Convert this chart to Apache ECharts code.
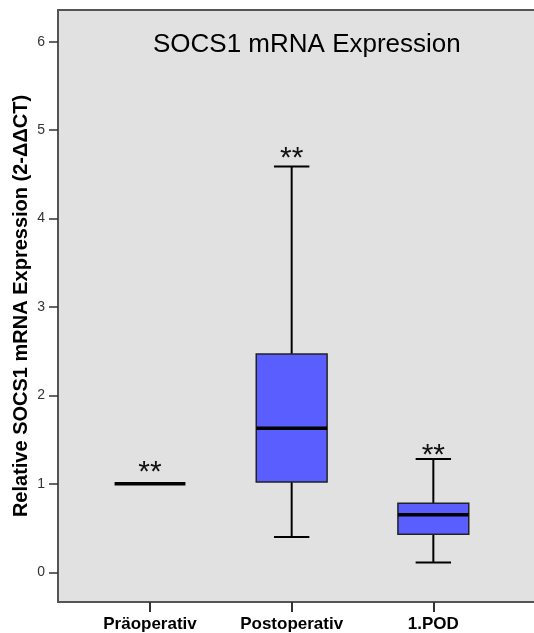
<!DOCTYPE html>
<html><head><meta charset="utf-8">
<script src="https://cdn.jsdelivr.net/npm/echarts@6/dist/echarts.min.js"></script>
<style>html,body{margin:0;padding:0;background:#fff}#c{width:534px;height:633px}</style>
</head><body><div id="c"></div>
<script>
const categories = ['Präoperativ', 'Postoperativ', '1.POD'];
const whiskerLow = [1, 0.40, 0.11];
const q1 = [1, 1.02, 0.43];
const median = [1, 1.63, 0.65];
const q3 = [1, 2.47, 0.78];
const whiskerHigh = [1, 4.59, 1.28];
const signifText = ['**', '**', '**'];
const signifY = [1.19, 4.75, 1.39];
const yTicks = [0, 1, 2, 3, 4, 5, 6];
const titleText = 'SOCS1 mRNA Expression';
const yName = 'Relative SOCS1 mRNA Expression (2-ΔΔCT)';

const FONT = 'Liberation Sans, Arial, sans-serif';
const boxData = categories.map((c, i) => [i, whiskerLow[i], q1[i], median[i], q3[i], whiskerHigh[i], signifY[i]]);

function renderItem(params, api) {
  const i = api.value(0);
  const bw = api.size([1, 0])[0] * 0.5;
  const capHalf = bw / 4;
  const pLow = api.coord([i, api.value(1)]);
  const pQ1 = api.coord([i, api.value(2)]);
  const pMed = api.coord([i, api.value(3)]);
  const pQ3 = api.coord([i, api.value(4)]);
  const pHigh = api.coord([i, api.value(5)]);
  const pSig = api.coord([i, api.value(6)]);
  const x = pMed[0];
  const line = { stroke: '#000', lineWidth: 2 };
  const ch = [];
  if (pLow[1] - pQ1[1] > 0.5) {
    ch.push({ type: 'line', shape: { x1: x, y1: pQ1[1], x2: x, y2: pLow[1] }, style: line });
    ch.push({ type: 'line', shape: { x1: x - capHalf, y1: pLow[1], x2: x + capHalf, y2: pLow[1] }, style: line });
  }
  if (pQ3[1] - pHigh[1] > 0.5) {
    ch.push({ type: 'line', shape: { x1: x, y1: pQ3[1], x2: x, y2: pHigh[1] }, style: line });
    ch.push({ type: 'line', shape: { x1: x - capHalf, y1: pHigh[1], x2: x + capHalf, y2: pHigh[1] }, style: line });
  }
  if (pQ1[1] - pQ3[1] > 0.5) {
    ch.push({ type: 'rect', shape: { x: x - bw / 2, y: pQ3[1], width: bw, height: pQ1[1] - pQ3[1] },
      style: { fill: '#5a5eff', stroke: '#222', lineWidth: 1.5 } });
  }
  ch.push({ type: 'line', shape: { x1: x - bw / 2, y1: pMed[1], x2: x + bw / 2, y2: pMed[1] },
    style: { stroke: '#000', lineWidth: 3.5 } });
  ch.push({ type: 'text', x: x, y: pSig[1] + 6,
    style: { text: signifText[i], fill: '#111', fontSize: 30, fontFamily: FONT, align: 'center', verticalAlign: 'middle' } });
  return { type: 'group', children: ch };
}

const chart = echarts.init(document.getElementById('c'), null, { renderer: 'canvas' });
chart.setOption({
  animation: false,
  backgroundColor: '#fff',
  textStyle: { fontFamily: FONT },
  title: {
    text: titleText, left: 148, top: 27,
    textStyle: { fontSize: 26, fontWeight: 'normal', color: '#000', fontFamily: FONT }
  },
  grid: [
    { show: true, outerBoundsMode: 'none', containLabel: false, left: 58, top: 10, width: 490, height: 592,
      backgroundColor: '#e1e1e1', borderColor: '#555', borderWidth: 2 },
    { show: false, outerBoundsMode: 'none', containLabel: false, left: 79.17, top: 10, width: 425, height: 592 }
  ],
  xAxis: [
    { gridIndex: 0, type: 'value', show: false, min: 0, max: 1 },
    {
      gridIndex: 1, type: 'category', data: categories, boundaryGap: true, position: 'bottom',
      axisLine: { show: false, onZero: false },
      axisTick: { show: true, inside: false, alignWithLabel: true, length: 10, lineStyle: { color: '#333', width: 2 } },
      axisLabel: { fontSize: 17, fontWeight: 'bold', color: '#000', margin: 14, fontFamily: FONT }
    }
  ],
  yAxis: [
    { gridIndex: 0, type: 'value', show: false, min: 0, max: 1 },
    {
      gridIndex: 1, type: 'value', min: -0.336, max: 6.359, offset: 21.17, position: 'left',
      axisLine: { show: false, onZero: false },
      splitLine: { show: false },
      axisTick: { show: true, inside: false, length: 9, customValues: yTicks, lineStyle: { color: '#333', width: 1.5 } },
      axisLabel: { customValues: yTicks, fontSize: 14, color: '#333', margin: 13, fontFamily: FONT },
      name: yName, nameLocation: 'middle', nameGap: 27, nameMoveOverlap: false,
      nameTextStyle: { fontSize: 20, fontWeight: 'bold', color: '#000', fontFamily: FONT }
    }
  ],
  series: [{
    type: 'custom', xAxisIndex: 1, yAxisIndex: 1,
    renderItem: renderItem,
    encode: { x: 0, y: [1, 2, 3, 4, 5] },
    data: boxData
  }]
});
</script></body></html>
